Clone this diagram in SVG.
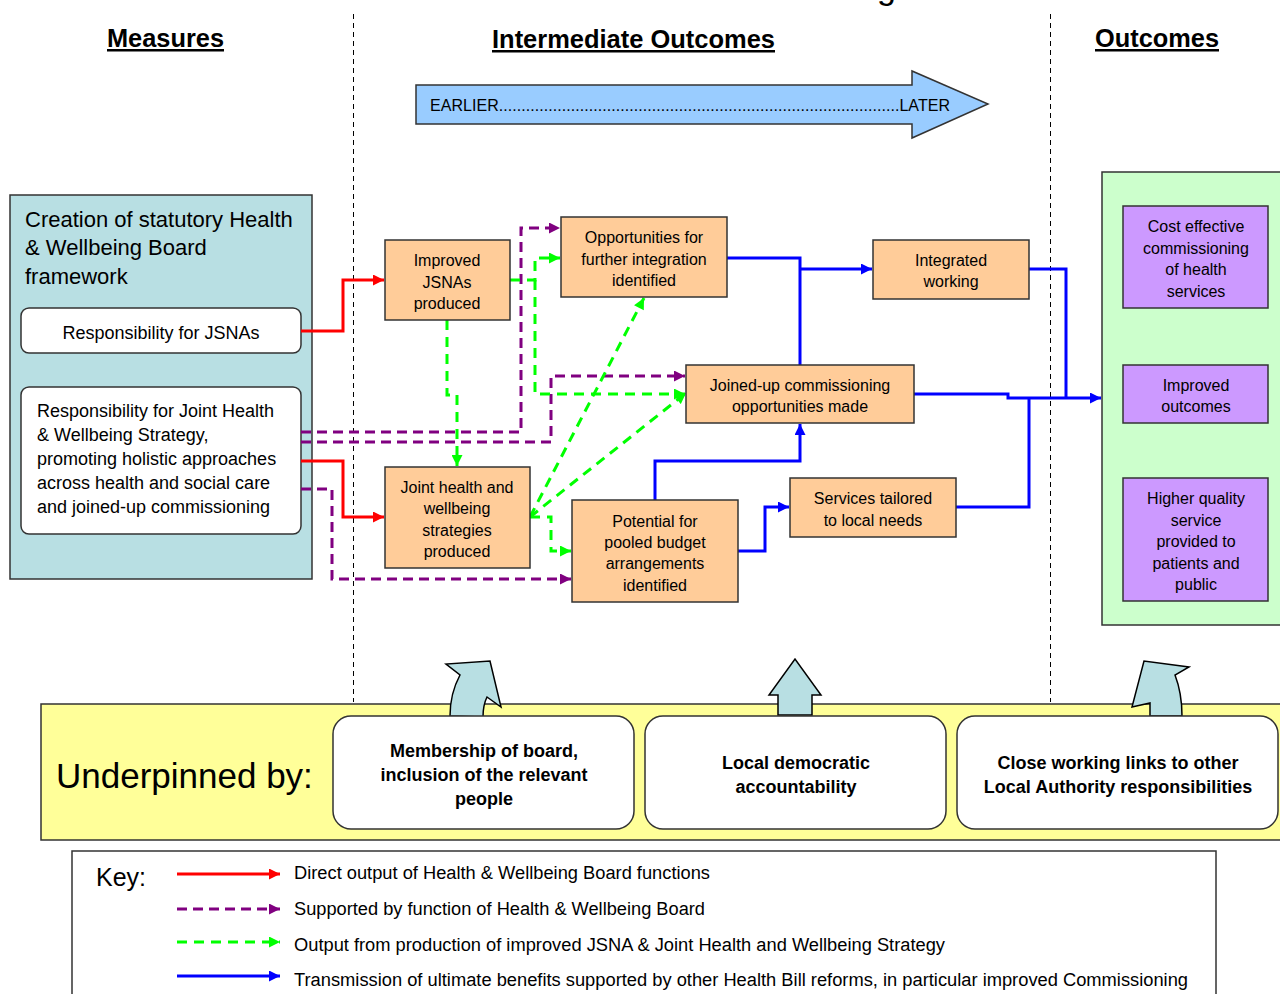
<svg xmlns="http://www.w3.org/2000/svg" width="1280" height="994" viewBox="0 0 1280 994">
<style>
text{font-family:"Liberation Sans",Arial,sans-serif;fill:#000}
.h{font-size:25px;font-weight:bold;text-decoration:underline}
.bx{fill:#ffcc99;stroke:#333;stroke-width:1.5}
.pb{fill:#cc99ff;stroke:#333;stroke-width:1.5}
.t16{font-size:16px;text-anchor:middle}
.t18{font-size:18px}
.wb{fill:#fff;stroke:#333;stroke-width:1.5}
.bt{font-size:18px;font-weight:bold;text-anchor:middle}
.red{fill:none;stroke:#ff0000;stroke-width:3}
.pur{fill:none;stroke:#800080;stroke-width:3;stroke-dasharray:10 6}
.grn{fill:none;stroke:#00ff00;stroke-width:3;stroke-dasharray:10 7}
.blu{fill:none;stroke:#0000ff;stroke-width:3}
.div{stroke:#000;stroke-width:1;stroke-dasharray:5 4;shape-rendering:crispEdges}
.ua{fill:#b8dfe3;stroke:#000;stroke-width:1.5}
</style>
<defs>
<marker id="ar" viewBox="0 0 10 10" refX="10" refY="5" markerUnits="userSpaceOnUse" markerWidth="12" markerHeight="11" orient="auto"><path d="M0,0 L10,5 L0,10 z" fill="#ff0000"/></marker>
<marker id="ap" viewBox="0 0 10 10" refX="10" refY="5" markerUnits="userSpaceOnUse" markerWidth="12" markerHeight="11" orient="auto"><path d="M0,0 L10,5 L0,10 z" fill="#800080"/></marker>
<marker id="ag" viewBox="0 0 10 10" refX="10" refY="5" markerUnits="userSpaceOnUse" markerWidth="12" markerHeight="11" orient="auto"><path d="M0,0 L10,5 L0,10 z" fill="#00ff00"/></marker>
<marker id="ab" viewBox="0 0 10 10" refX="10" refY="5" markerUnits="userSpaceOnUse" markerWidth="12" markerHeight="11" orient="auto"><path d="M0,0 L10,5 L0,10 z" fill="#0000ff"/></marker>
</defs>
<rect width="1280" height="994" fill="#fff"/>
<text x="877" y="-1" style="font-size:34px">g</text>
<line class="div" x1="353.5" y1="14" x2="353.5" y2="702"/>
<line class="div" x1="1050.5" y1="14" x2="1050.5" y2="702"/>
<text class="h" x="107" y="47" textLength="117" lengthAdjust="spacingAndGlyphs">Measures</text>
<text class="h" x="492" y="48" textLength="283" lengthAdjust="spacingAndGlyphs">Intermediate Outcomes</text>
<text class="h" x="1095" y="47" textLength="124" lengthAdjust="spacingAndGlyphs">Outcomes</text>
<g id="timeline">
<path d="M416,85 H912 V71 L988,104 L912,138 V124 H416 Z" fill="#99ccff" stroke="#333" stroke-width="1.5"/>
<text x="430" y="111" style="font-size:16px" textLength="520" lengthAdjust="spacing">EARLIER.........................................................................................LATER</text>
</g>
<g id="measures">
<rect x="10" y="195" width="302" height="384" fill="#b8dfe3" stroke="#333" stroke-width="1.5"/>
<text x="25" y="227" style="font-size:22px">Creation of statutory Health</text>
<text x="25" y="255" style="font-size:22px">&amp; Wellbeing Board</text>
<text x="25" y="284" style="font-size:22px">framework</text>
</g>
<g id="m-jsna">
<rect class="wb" x="21" y="308" width="280" height="45" rx="8"/>
<text class="t18" x="161" y="339" text-anchor="middle">Responsibility for JSNAs</text>
</g>
<g id="m-strategy">
<rect class="wb" x="21" y="387" width="280" height="147" rx="8"/>
<text class="t18" x="37" y="417">Responsibility for Joint Health</text>
<text class="t18" x="37" y="441">&amp; Wellbeing Strategy,</text>
<text class="t18" x="37" y="465">promoting holistic approaches</text>
<text class="t18" x="37" y="489">across health and social care</text>
<text class="t18" x="37" y="513">and joined-up commissioning</text>
</g>
<g id="connectors">
<path class="red" d="M301,331 H343 V280 H384" marker-end="url(#ar)"/>
<path class="red" d="M301,461 H343 V517 H384" marker-end="url(#ar)"/>
<path class="pur" d="M301,432 H521 V228 H560" marker-end="url(#ap)"/>
<path class="pur" d="M301,442 H551 V376 H685" marker-end="url(#ap)"/>
<path class="pur" d="M301,489 H332 V579 H571" marker-end="url(#ap)"/>
<path class="grn" d="M510,280 H535 V258 H560" marker-end="url(#ag)"/>
<path class="grn" d="M535,280 V394 H685" marker-end="url(#ag)"/>
<path class="grn" d="M447,320 V395 H457 V466" marker-end="url(#ag)"/>
<path class="grn" d="M530,517 L644,298" marker-end="url(#ag)"/>
<path class="grn" d="M530,517 L686,393" marker-end="url(#ag)"/>
<path class="grn" d="M530,517 H551 V551 H571" marker-end="url(#ag)"/>
<path class="blu" d="M727,258 H800 V365"/>
<path class="blu" d="M800,269 H872" marker-end="url(#ab)"/>
<path class="blu" d="M1029,269 H1066 V398"/>
<path class="blu" d="M914,394 H1008 V398 H1101" marker-end="url(#ab)"/>
<path class="blu" d="M956,507 H1029 V398"/>
<path class="blu" d="M655,500 V461 H800 V424" marker-end="url(#ab)"/>
<path class="blu" d="M738,551 H765 V507 H789" marker-end="url(#ab)"/>
</g>
<g id="n-jsnas">
<rect class="bx" x="385" y="240" width="125" height="80"/>
<text class="t16" x="447" y="266">Improved</text>
<text class="t16" x="447" y="288">JSNAs</text>
<text class="t16" x="447" y="309">produced</text>
</g>
<g id="n-opps">
<rect class="bx" x="561" y="217" width="166" height="80"/>
<text class="t16" x="644" y="243">Opportunities for</text>
<text class="t16" x="644" y="265">further integration</text>
<text class="t16" x="644" y="286">identified</text>
</g>
<g id="n-integrated">
<rect class="bx" x="873" y="240" width="156" height="59"/>
<text class="t16" x="951" y="266">Integrated</text>
<text class="t16" x="951" y="287">working</text>
</g>
<g id="n-joinedup">
<rect class="bx" x="686" y="365" width="228" height="58"/>
<text class="t16" x="800" y="391">Joined-up commissioning</text>
<text class="t16" x="800" y="412">opportunities made</text>
</g>
<g id="n-joint">
<rect class="bx" x="385" y="467" width="145" height="101"/>
<text class="t16" x="457" y="493">Joint health and</text>
<text class="t16" x="457" y="514">wellbeing</text>
<text class="t16" x="457" y="536">strategies</text>
<text class="t16" x="457" y="557">produced</text>
</g>
<g id="n-pooled">
<rect class="bx" x="572" y="500" width="166" height="102"/>
<text class="t16" x="655" y="527">Potential for</text>
<text class="t16" x="655" y="548">pooled budget</text>
<text class="t16" x="655" y="569">arrangements</text>
<text class="t16" x="655" y="591">identified</text>
</g>
<g id="n-services">
<rect class="bx" x="790" y="478" width="166" height="59"/>
<text class="t16" x="873" y="504">Services tailored</text>
<text class="t16" x="873" y="526">to local needs</text>
</g>
<g id="outcomes">
<rect x="1102" y="172" width="190" height="453" fill="#ccffcc" stroke="#333" stroke-width="1.5"/>
</g>
<g id="o-cost">
<rect class="pb" x="1123" y="206" width="145" height="102"/>
<text class="t16" x="1196" y="232">Cost effective</text>
<text class="t16" x="1196" y="254">commissioning</text>
<text class="t16" x="1196" y="275">of health</text>
<text class="t16" x="1196" y="297">services</text>
</g>
<g id="o-improved">
<rect class="pb" x="1123" y="365" width="145" height="58"/>
<text class="t16" x="1196" y="391">Improved</text>
<text class="t16" x="1196" y="412">outcomes</text>
</g>
<g id="o-quality">
<rect class="pb" x="1123" y="478" width="145" height="123"/>
<text class="t16" x="1196" y="504">Higher quality</text>
<text class="t16" x="1196" y="526">service</text>
<text class="t16" x="1196" y="547">provided to</text>
<text class="t16" x="1196" y="569">patients and</text>
<text class="t16" x="1196" y="590">public</text>
</g>
<g id="underpinned">
<rect x="41" y="704" width="1250" height="136" fill="#ffff99" stroke="#333" stroke-width="1.5"/>
<text x="56" y="788" style="font-size:35px">Underpinned by:</text>
<path class="ua" d="M450,716 C450,700 453,688 460,675 L446,664 L490,661 L501,707 L487,697 C484,703 483,710 483,717 Z"/>
<path class="ua" d="M778,715 V695 H769 L795,659 L821,695 H812 V715 Z"/>
<path class="ua" d="M1150,716 L1150,703 L1132,707 L1144,661 L1189,667 L1175,675 C1180,688 1182,700 1182,716 Z"/>
</g>
<g id="u-membership">
<rect class="wb" x="333" y="716" width="301" height="113" rx="18"/>
<text class="bt" x="484" y="757">Membership of board,</text>
<text class="bt" x="484" y="781">inclusion of the relevant</text>
<text class="bt" x="484" y="805">people</text>
</g>
<g id="u-democratic">
<rect class="wb" x="645" y="716" width="301" height="113" rx="18"/>
<text class="bt" x="796" y="769">Local democratic</text>
<text class="bt" x="796" y="793">accountability</text>
</g>
<g id="u-links">
<rect class="wb" x="957" y="716" width="321" height="113" rx="18"/>
<text class="bt" x="1118" y="769">Close working links to other</text>
<text class="bt" x="1118" y="793">Local Authority responsibilities</text>
</g>
<g id="key">
<rect x="72" y="851" width="1144" height="160" fill="#fff" stroke="#333" stroke-width="1.5"/>
<text x="96" y="886" style="font-size:25px">Key:</text>
<line class="red" x1="177" y1="874" x2="280" y2="874" marker-end="url(#ar)"/>
<line class="pur" x1="177" y1="909" x2="280" y2="909" marker-end="url(#ap)"/>
<line class="grn" x1="177" y1="942" x2="280" y2="942" marker-end="url(#ag)"/>
<line class="blu" x1="177" y1="976" x2="280" y2="976" marker-end="url(#ab)"/>
<text class="t18" x="294" y="879" textLength="416" lengthAdjust="spacingAndGlyphs">Direct output of Health &amp; Wellbeing Board functions</text>
<text class="t18" x="294" y="915" textLength="411" lengthAdjust="spacingAndGlyphs">Supported by function of Health &amp; Wellbeing Board</text>
<text class="t18" x="294" y="951" textLength="651" lengthAdjust="spacingAndGlyphs">Output from production of improved JSNA &amp; Joint Health and Wellbeing Strategy</text>
<text class="t18" x="294" y="986" textLength="894" lengthAdjust="spacingAndGlyphs">Transmission of ultimate benefits supported by other Health Bill reforms, in particular improved Commissioning</text>
</g>
</svg>
